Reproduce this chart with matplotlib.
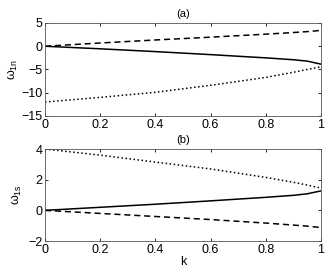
import matplotlib
matplotlib.use("Agg")
import matplotlib.pyplot as plt
import numpy as np

k = [0.0, 0.2, 0.4, 0.6, 0.8, 0.9, 0.95, 1.0]
a_solid = [0.0, -0.55, -1.15, -1.8, -2.5, -2.9, -3.2, -3.85]
a_dashed = [0.0, 0.7, 1.35, 1.95, 2.6, 2.95, 3.15, 3.4]
a_dotted = [-12.0, -11.0, -9.9, -8.4, -6.7, -5.6, -5.0, -4.4]
b_solid = [0.0, 0.2, 0.4, 0.62, 0.85, 0.98, 1.08, 1.27]
b_dashed = [0.0, -0.2, -0.4, -0.6, -0.83, -0.96, -1.03, -1.12]
b_dotted = [4.0, 3.6, 3.15, 2.7, 2.15, 1.83, 1.65, 1.45]

plt.rcParams['font.family'] = ['Liberation Sans', 'DejaVu Sans']
plt.rcParams['mathtext.fontset'] = 'custom'
plt.rcParams['mathtext.rm'] = 'Liberation Sans'
plt.rcParams['mathtext.it'] = 'Liberation Sans'
fig = plt.figure(figsize=(3.27, 2.69), dpi=100)
ax1 = fig.add_axes([0.1376, 0.5688, 0.8441, 0.3457])
ax2 = fig.add_axes([0.1376, 0.104, 0.8441, 0.342])

def style(ax):
    ax.tick_params(direction='in', top=True, right=True, labelsize=9, length=2.5, width=0.6, pad=2, colors='black')
    for s in ax.spines.values():
        s.set_linewidth(0.6)
        s.set_color('#555555')

ax1.plot(k, a_dashed, 'k--', lw=1.1, dashes=(4, 2.5))
ax1.plot(k, a_solid, 'k-', lw=1.1)
ax1.plot(k, a_dotted, 'k:', lw=1.1)
ax1.set_xlim(0, 1)
ax1.set_ylim(-15, 5)
ax1.set_yticks([-15, -10, -5, 0, 5])
ax1.set_yticklabels(['\u221215', '\u221210', '\u22125', '0', '5'])
ax1.set_xticks([0, 0.2, 0.4, 0.6, 0.8, 1])
ax1.set_xticklabels(['0', '0.2', '0.4', '0.6', '0.8', '1'])
ax1.set_title('(a)', fontsize=8, pad=4)
ax1.set_ylabel(r'$\mathrm{\omega}_{\mathrm{1n}}$', fontsize=9, labelpad=1)
style(ax1)

ax2.plot(k, b_dotted, 'k:', lw=1.1)
ax2.plot(k, b_solid, 'k-', lw=1.1)
ax2.plot(k, b_dashed, 'k--', lw=1.1, dashes=(4, 2.5))
ax2.set_xlim(0, 1)
ax2.set_ylim(-2, 4)
ax2.set_yticks([-2, 0, 2, 4])
ax2.set_yticklabels(['\u22122', '0', '2', '4'])
ax2.set_xticks([0, 0.2, 0.4, 0.6, 0.8, 1])
ax2.set_xticklabels(['0', '0.2', '0.4', '0.6', '0.8', '1'])
ax2.set_title('(b)', fontsize=8, pad=4)
ax2.set_ylabel(r'$\mathrm{\omega}_{\mathrm{1s}}$', fontsize=9, labelpad=3)
ax2.set_xlabel('k', fontsize=9, labelpad=0)
style(ax2)

fig.savefig('out.png', dpi=100)
